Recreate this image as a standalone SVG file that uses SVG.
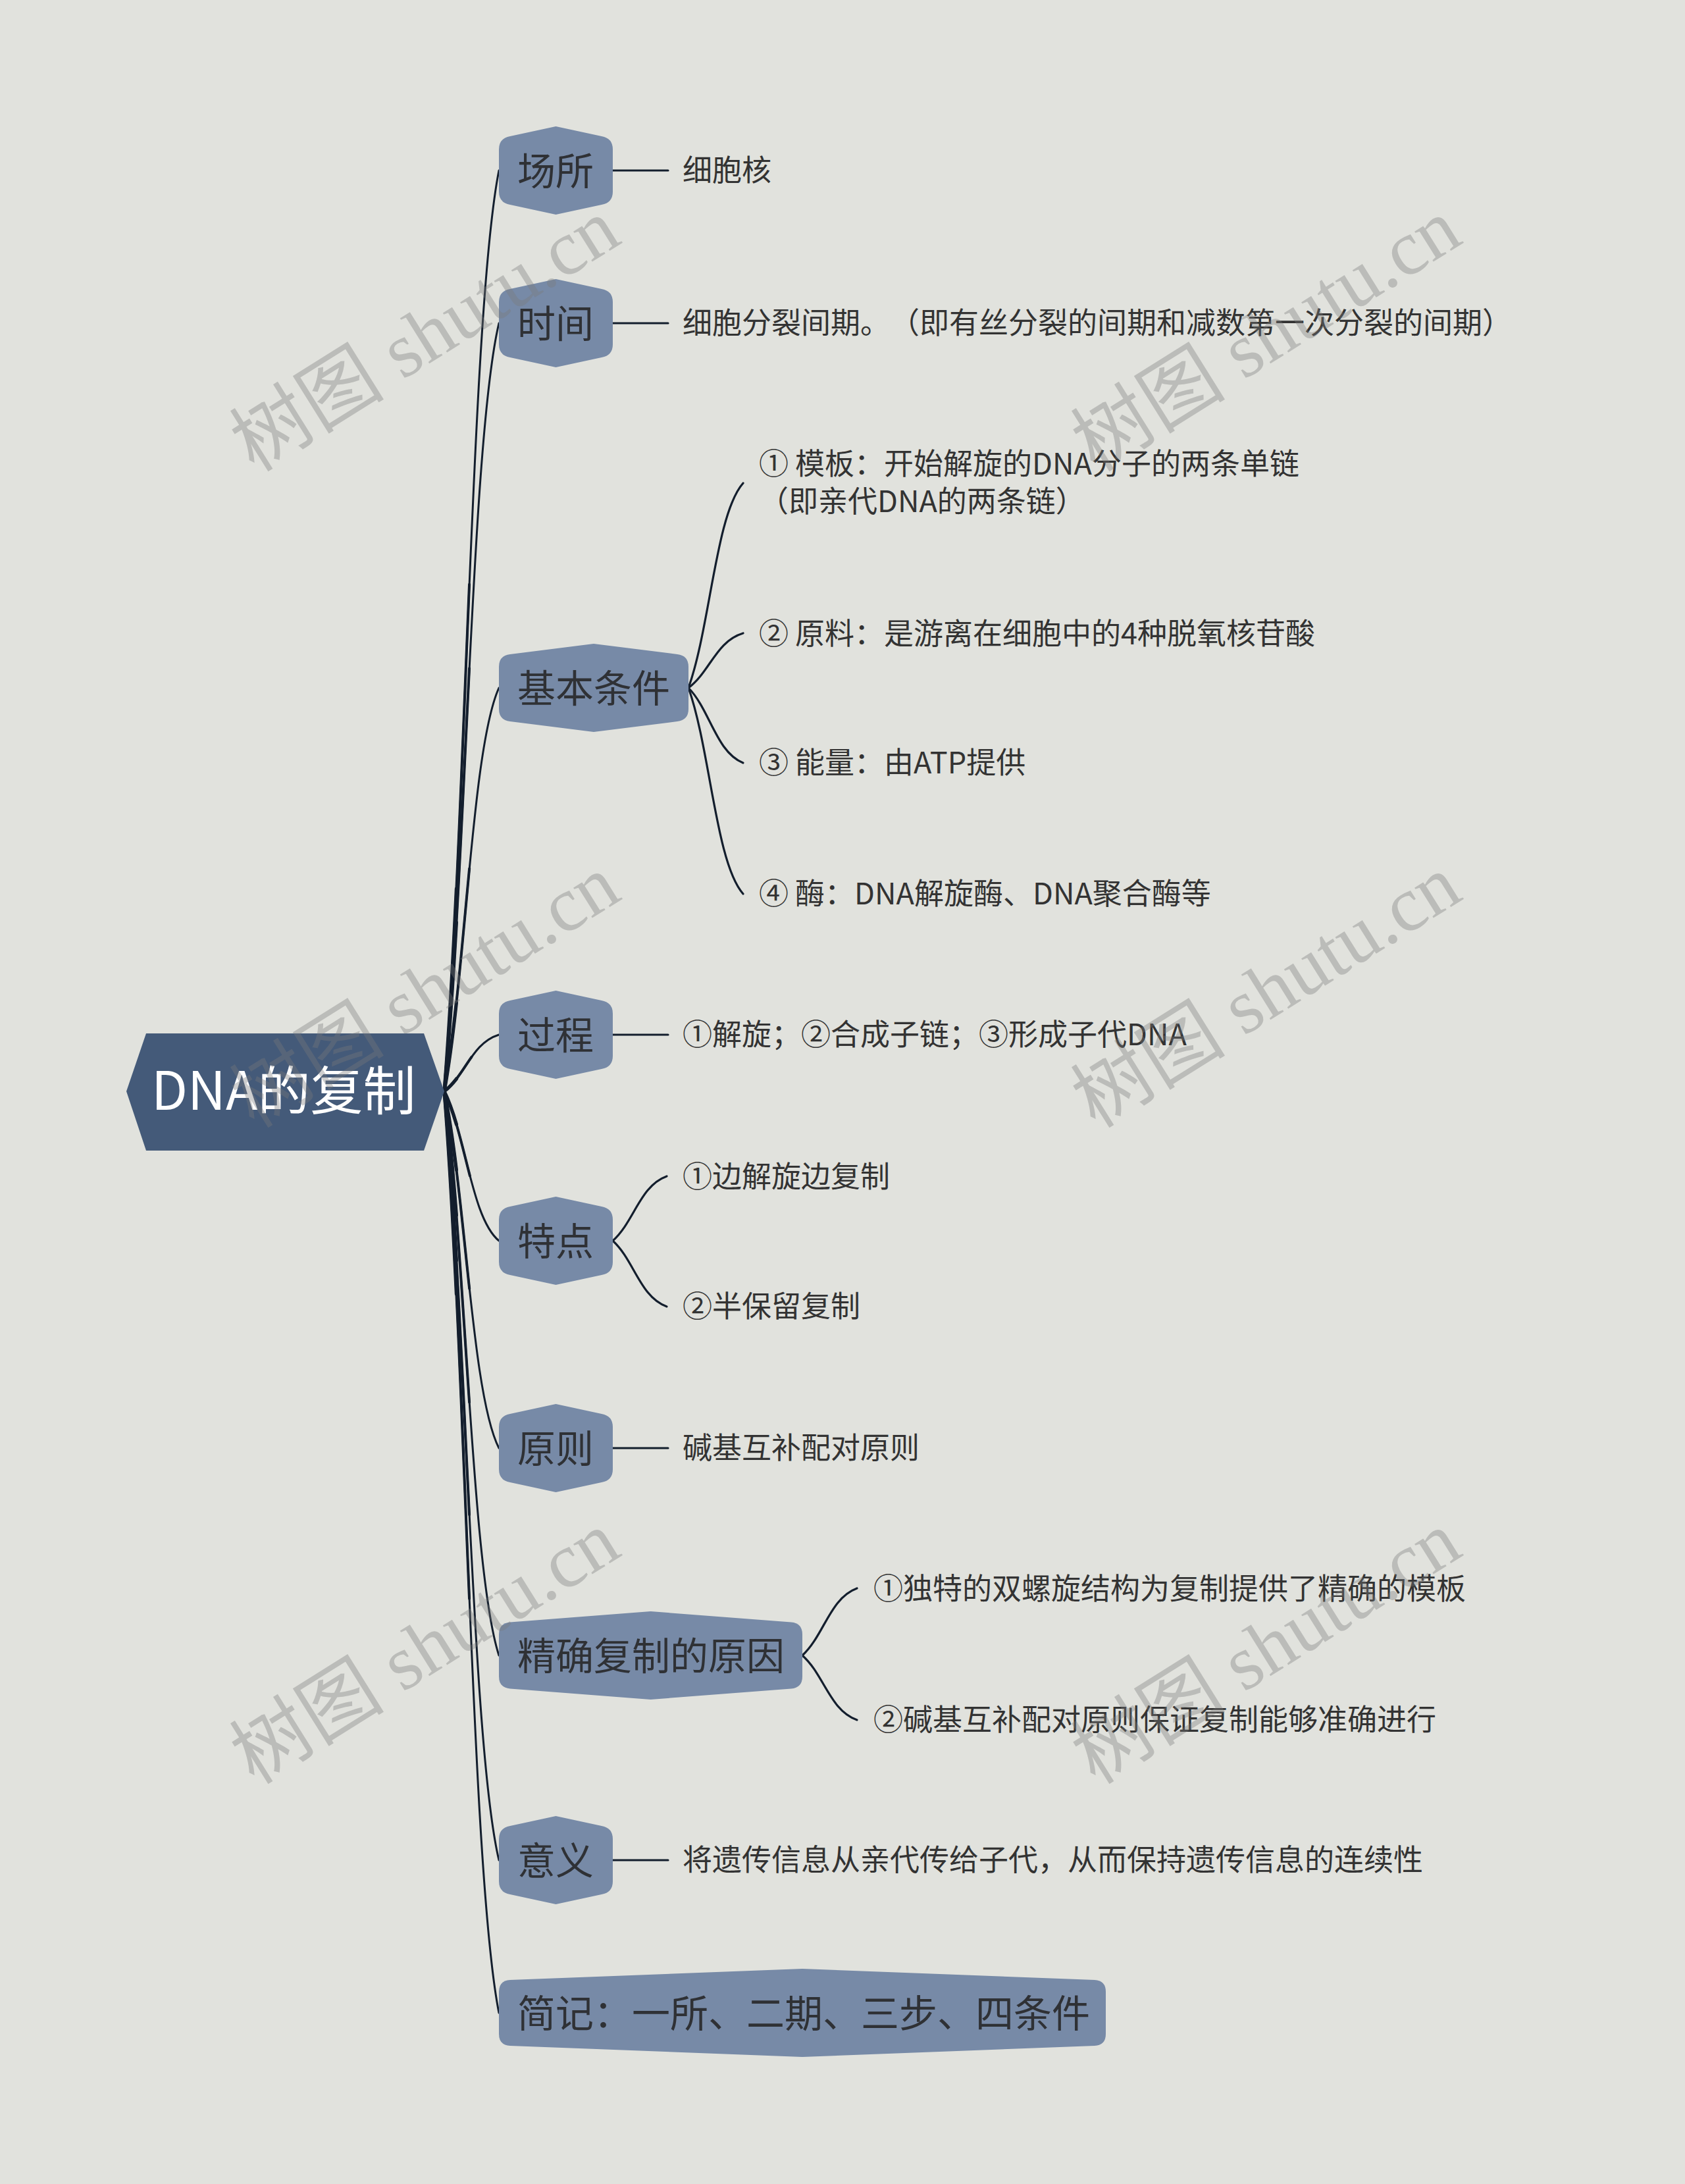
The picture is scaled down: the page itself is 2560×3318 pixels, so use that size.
<svg xmlns="http://www.w3.org/2000/svg" xmlns:xlink="http://www.w3.org/1999/xlink" width="2560" height="3318" viewBox="0 0 2560 3318">
<style>
.bg{fill:#e1e2dd}
.root{fill:#445a79}
.node{fill:#778aa7}
.rt{font-family:"Noto Sans CJK SC","Noto Sans",sans-serif;font-size:80px;fill:#ffffff}
.nt{font-family:"Noto Sans CJK SC","Noto Sans",sans-serif;font-size:58px;fill:#2f3135}
.ct{font-family:"Noto Sans CJK SC","Noto Sans",sans-serif;font-size:45px;fill:#333333;text-spacing-trim:space-all}
.ln{fill:none;stroke:#131e2d;stroke-linecap:round}
.w1{stroke-width:3}
.w2{stroke-width:4;stroke-dasharray:55 200}
.w3{stroke-width:5.2;stroke-dasharray:22 200}
.cl{fill:none;stroke:#131e2d;stroke-width:3.2;stroke-linecap:round}
.wm{font-family:"Liberation Serif","Noto Sans CJK SC",serif;font-size:118px;fill:#7a7a7a;opacity:0.36}
</style>
<defs>
<path id="r1" pathLength="100" d="M675 1658 C708.2 1238.3 716.5 468.8 758 259"/>
<path id="r2" pathLength="100" d="M675 1658 C708.2 1307.9 716.5 666 758 491"/>
<path id="r3" pathLength="100" d="M675 1658 C708.2 1474.1 716.5 1137 758 1045"/>
<path id="r4" pathLength="100" d="M675 1658 C708.2 1632.2 716.5 1584.9 758 1572"/>
<path id="r5" pathLength="100" d="M675 1658 C708.2 1726.1 716.5 1851 758 1885"/>
<path id="r6" pathLength="100" d="M675 1658 C708.2 1820.6 716.5 2118.7 758 2200"/>
<path id="r7" pathLength="100" d="M675 1658 C708.2 1915.1 716.5 2386.5 758 2515"/>
<path id="r8" pathLength="100" d="M675 1658 C708.2 2008.4 716.5 2650.8 758 2826"/>
<path id="r9" pathLength="100" d="M675 1658 C708.2 2078 716.5 2848 758 3058"/>
</defs>
<rect class="bg" x="0" y="0" width="2560" height="3318"/>

<g id="connectors">
<g class="ln">
<use xlink:href="#r1" class="w1"/><use xlink:href="#r1" class="w2"/><use xlink:href="#r1" class="w3"/>
<use xlink:href="#r2" class="w1"/><use xlink:href="#r2" class="w2"/><use xlink:href="#r2" class="w3"/>
<use xlink:href="#r3" class="w1"/><use xlink:href="#r3" class="w2"/><use xlink:href="#r3" class="w3"/>
<use xlink:href="#r4" class="w1"/><use xlink:href="#r4" class="w2"/><use xlink:href="#r4" class="w3"/>
<use xlink:href="#r5" class="w1"/><use xlink:href="#r5" class="w2"/><use xlink:href="#r5" class="w3"/>
<use xlink:href="#r6" class="w1"/><use xlink:href="#r6" class="w2"/><use xlink:href="#r6" class="w3"/>
<use xlink:href="#r7" class="w1"/><use xlink:href="#r7" class="w2"/><use xlink:href="#r7" class="w3"/>
<use xlink:href="#r8" class="w1"/><use xlink:href="#r8" class="w2"/><use xlink:href="#r8" class="w3"/>
<use xlink:href="#r9" class="w1"/><use xlink:href="#r9" class="w2"/><use xlink:href="#r9" class="w3"/>
</g>
<path class="cl" d="M931 259 L1015 259"/>
<path class="cl" d="M931 491 L1015 491"/>
<path class="cl" d="M1046 1045 C1079.2 951.7 1087.5 780.7 1129 734"/>
<path class="cl" d="M1046 1045 C1079.2 1020.1 1087.5 974.5 1129 962"/>
<path class="cl" d="M1046 1045 C1079.2 1079.2 1087.5 1141.9 1129 1159"/>
<path class="cl" d="M1046 1045 C1079.2 1138.9 1087.5 1311 1129 1358"/>
<path class="cl" d="M931 1572 L1015 1572"/>
<path class="cl" d="M931 1885 C963.8 1855.6 972 1801.7 1013 1787"/>
<path class="cl" d="M931 1885 C963.8 1915 972 1970 1013 1985"/>
<path class="cl" d="M931 2200 L1015 2200"/>
<path class="cl" d="M1219 2515 C1252.2 2484.4 1260.5 2428.3 1302 2413"/>
<path class="cl" d="M1219 2515 C1252.2 2544.4 1260.5 2598.3 1302 2613"/>
<path class="cl" d="M931 2826 L1015 2826"/>
</g>

<g id="root">
<path class="root" d="M192 1658 L222 1570 L644 1570 L675 1658 L644 1748 L222 1748 Z"/>
<text class="rt" x="230" y="1686">DNA的复制</text>
</g>

<g id="n1">
<path class="node" d="M758 227 Q758 210 775 207 L844.5 192 L914 207 Q931 210 931 227 L931 291 Q931 308 914 311 L844.5 326 L775 311 Q758 308 758 291 Z"/>
<text class="nt" x="786" y="281">场所</text>
</g>
<g id="n1c"><text class="ct" x="1037" y="275">细胞核</text></g>

<g id="n2">
<path class="node" d="M758 459 Q758 442 775 439 L844.5 424 L914 439 Q931 442 931 459 L931 523 Q931 540 914 543 L844.5 558 L775 543 Q758 540 758 523 Z"/>
<text class="nt" x="786" y="513">时间</text>
</g>
<g id="n2c"><text class="ct" x="1037" y="507">细胞分裂间期。（即有丝分裂的间期和减数第一次分裂的间期）</text></g>

<g id="n3">
<path class="node" d="M758 1013 Q758 996 775 994 L902 978 L1029 994 Q1046 996 1046 1013 L1046 1077 Q1046 1094 1029 1096 L902 1112 L775 1096 Q758 1094 758 1077 Z"/>
<text class="nt" x="786" y="1067">基本条件</text>
</g>
<g id="n3c1"><text class="ct" x="1153" y="721">① 模板：开始解旋的DNA分子的两条单链</text><text class="ct" x="1153" y="778">（即亲代DNA的两条链）</text></g>
<g id="n3c2"><text class="ct" x="1153" y="979">② 原料：是游离在细胞中的4种脱氧核苷酸</text></g>
<g id="n3c3"><text class="ct" x="1153" y="1175">③ 能量：由ATP提供</text></g>
<g id="n3c4"><text class="ct" x="1153" y="1374">④ 酶：DNA解旋酶、DNA聚合酶等</text></g>

<g id="n4">
<path class="node" d="M758 1540 Q758 1523 775 1520 L844.5 1505 L914 1520 Q931 1523 931 1540 L931 1604 Q931 1621 914 1624 L844.5 1639 L775 1624 Q758 1621 758 1604 Z"/>
<text class="nt" x="786" y="1594">过程</text>
</g>
<g id="n4c"><text class="ct" x="1037" y="1588">①解旋；②合成子链；③形成子代DNA</text></g>

<g id="n5">
<path class="node" d="M758 1853 Q758 1836 775 1833 L844.5 1818 L914 1833 Q931 1836 931 1853 L931 1917 Q931 1934 914 1937 L844.5 1952 L775 1937 Q758 1934 758 1917 Z"/>
<text class="nt" x="786" y="1907">特点</text>
</g>
<g id="n5c1"><text class="ct" x="1037" y="1804">①边解旋边复制</text></g>
<g id="n5c2"><text class="ct" x="1037" y="2001">②半保留复制</text></g>

<g id="n6">
<path class="node" d="M758 2168 Q758 2151 775 2148 L844.5 2133 L914 2148 Q931 2151 931 2168 L931 2232 Q931 2249 914 2252 L844.5 2267 L775 2252 Q758 2249 758 2232 Z"/>
<text class="nt" x="786" y="2222">原则</text>
</g>
<g id="n6c"><text class="ct" x="1037" y="2216">碱基互补配对原则</text></g>

<g id="n7">
<path class="node" d="M758 2483 Q758 2466 775 2464.5 L988.5 2448 L1202 2464.5 Q1219 2466 1219 2483 L1219 2547 Q1219 2564 1202 2565.5 L988.5 2582 L775 2565.5 Q758 2564 758 2547 Z"/>
<text class="nt" x="786" y="2537">精确复制的原因</text>
</g>
<g id="n7c1"><text class="ct" x="1327" y="2430">①独特的双螺旋结构为复制提供了精确的模板</text></g>
<g id="n7c2"><text class="ct" x="1327" y="2629">②碱基互补配对原则保证复制能够准确进行</text></g>

<g id="n8">
<path class="node" d="M758 2794 Q758 2777 775 2774 L844.5 2759 L914 2774 Q931 2777 931 2794 L931 2858 Q931 2875 914 2878 L844.5 2893 L775 2878 Q758 2875 758 2858 Z"/>
<text class="nt" x="786" y="2848">意义</text>
</g>
<g id="n8c"><text class="ct" x="1037" y="2842">将遗传信息从亲代传给子代，从而保持遗传信息的连续性</text></g>

<g id="n9">
<path class="node" d="M758 3026 Q758 3009 775 3008 L1219 2991 L1663 3008 Q1680 3009 1680 3026 L1680 3090 Q1680 3107 1663 3108 L1219 3125 L775 3108 Q758 3107 758 3090 Z"/>
<text class="nt" x="786" y="3080">简记：一所、二期、三步、四条件</text>
</g>

<g id="watermarks">
<text class="wm" text-anchor="middle" dy="0.35em" transform="translate(645 508) rotate(-32)">树图 shutu.cn</text>
<text class="wm" text-anchor="middle" dy="0.35em" transform="translate(1923 508) rotate(-32)">树图 shutu.cn</text>
<text class="wm" text-anchor="middle" dy="0.35em" transform="translate(645 1505) rotate(-32)">树图 shutu.cn</text>
<text class="wm" text-anchor="middle" dy="0.35em" transform="translate(1923 1505) rotate(-32)">树图 shutu.cn</text>
<text class="wm" text-anchor="middle" dy="0.35em" transform="translate(645 2502) rotate(-32)">树图 shutu.cn</text>
<text class="wm" text-anchor="middle" dy="0.35em" transform="translate(1923 2502) rotate(-32)">树图 shutu.cn</text>
</g>
</svg>
